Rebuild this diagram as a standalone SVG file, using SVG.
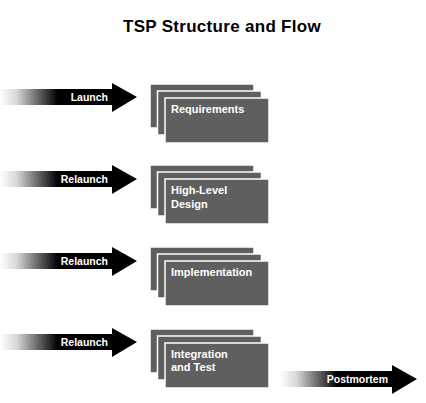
<svg xmlns="http://www.w3.org/2000/svg" width="426" height="403" viewBox="0 0 426 403">
<defs>
<linearGradient id="gL" gradientUnits="userSpaceOnUse" x1="0" y1="0" x2="137" y2="0">
<stop offset="0" stop-color="#ffffff"/>
<stop offset="0.12" stop-color="#d8d8d8"/>
<stop offset="0.42" stop-color="#000000"/>
<stop offset="1" stop-color="#000000"/>
</linearGradient>
<linearGradient id="gP" gradientUnits="userSpaceOnUse" x1="280" y1="0" x2="417" y2="0">
<stop offset="0" stop-color="#ffffff"/>
<stop offset="0.12" stop-color="#d8d8d8"/>
<stop offset="0.42" stop-color="#000000"/>
<stop offset="1" stop-color="#000000"/>
</linearGradient>
</defs>
<style>
.card{fill:#5f5f5f;stroke:#ffffff;stroke-width:1.5}
.lbl{font-family:"Liberation Sans",Arial,sans-serif;font-weight:bold;font-size:10.5px;fill:#ffffff}
.box{font-family:"Liberation Sans",Arial,sans-serif;font-weight:bold;font-size:11px;fill:#ffffff}
.title{font-family:"Liberation Sans",Arial,sans-serif;font-weight:bold;font-size:17px;fill:#000000}
</style>
<rect width="426" height="403" fill="#ffffff"/>
<text class="title" x="222" y="32" text-anchor="middle" letter-spacing="0.3">TSP Structure and Flow</text>
<g id="connectors">
<g id="arrow-launch">
<polygon points="0,89 112,89 112,83 137,97 112,112 112,105 0,105" fill="url(#gL)"/>
<text class="lbl" x="108" y="101" text-anchor="end">Launch</text>
</g>
<g id="arrow-relaunch1">
<polygon points="0,171 112,171 112,165 137,179 112,194 112,187 0,187" fill="url(#gL)"/>
<text class="lbl" x="108" y="183" text-anchor="end">Relaunch</text>
</g>
<g id="arrow-relaunch2">
<polygon points="0,253 112,253 112,247 137,261 112,276 112,269 0,269" fill="url(#gL)"/>
<text class="lbl" x="108" y="265" text-anchor="end">Relaunch</text>
</g>
<g id="arrow-relaunch3">
<polygon points="0,334 112,334 112,328 137,342 112,357 112,350 0,350" fill="url(#gL)"/>
<text class="lbl" x="108" y="346" text-anchor="end">Relaunch</text>
</g>
<g id="arrow-postmortem">
<polygon points="280,371 392,371 392,365 417,379 392,394 392,387 280,387" fill="url(#gP)"/>
<text class="lbl" x="388" y="383" text-anchor="end">Postmortem</text>
</g>
</g>
<g id="node-requirements">
<rect class="card" x="150" y="84" width="104" height="44"/>
<rect class="card" x="157.5" y="91" width="104" height="44"/>
<rect class="card" x="165" y="98" width="104" height="45"/>
<text class="box" x="171" y="113">Requirements</text>
</g>
<g id="node-design">
<rect class="card" x="150" y="165" width="104" height="44"/>
<rect class="card" x="157.5" y="172" width="104" height="44"/>
<rect class="card" x="165" y="179" width="104" height="45"/>
<text class="box" x="171" y="194">High-Level</text>
<text class="box" x="171" y="208">Design</text>
</g>
<g id="node-implementation">
<rect class="card" x="150" y="247" width="104" height="44"/>
<rect class="card" x="157.5" y="254" width="104" height="44"/>
<rect class="card" x="165" y="261" width="104" height="45"/>
<text class="box" x="171" y="276">Implementation</text>
</g>
<g id="node-integration">
<rect class="card" x="150" y="329" width="104" height="44"/>
<rect class="card" x="157.5" y="336" width="104" height="44"/>
<rect class="card" x="165" y="343" width="104" height="45"/>
<text class="box" x="171" y="358">Integration</text>
<text class="box" x="171" y="371">and Test</text>
</g>
</svg>
